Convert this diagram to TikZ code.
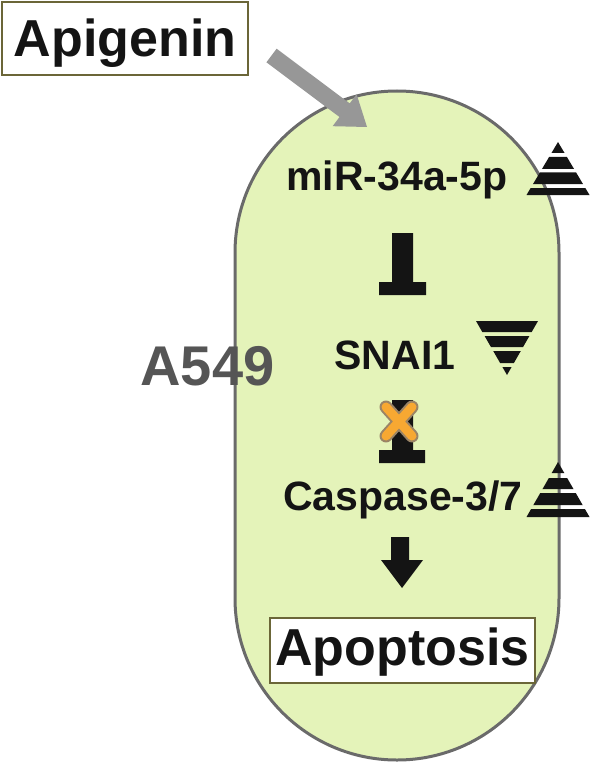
\documentclass[tikz,border=0pt]{standalone}
\usepackage{fontspec}
\setmainfont{Liberation Sans}
\usetikzlibrary{calc}
\definecolor{cellfill}{HTML}{E4F3B9}
\definecolor{cellline}{HTML}{6A6A6A}
\definecolor{boxline}{HTML}{6B6638}
\definecolor{arrowgray}{HTML}{979797}
\definecolor{ink}{HTML}{141414}
\definecolor{cellname}{HTML}{555555}
\definecolor{xorange}{HTML}{F7A832}
\definecolor{xedge}{HTML}{9A8466}
\tikzset{
  labelbox/.style={draw=boxline, line width=1.6pt, fill=white, inner sep=0pt, anchor=base, text=ink, font=\fontsize{52}{60}\selectfont\bfseries},
  gene/.style={inner sep=0pt, anchor=base, text=ink, font=\fontsize{41}{48}\selectfont\bfseries},
  band/.style={fill=ink},
}
\begin{document}
\begin{tikzpicture}[x=1pt,y=-1pt]
\useasboundingbox (0,0) rectangle (590,762);
% cell
\node[draw=cellline, line width=3pt, fill=cellfill, rounded corners=161.9pt,
      minimum width=324pt, minimum height=669pt, inner sep=0pt] (cell) at (397,425.5) {};
\node[inner sep=0pt, anchor=base, text=cellname, font=\fontsize{56}{64}\selectfont\bfseries] (a549) at (207.5,385) {A549};
% apigenin
\node[labelbox, minimum width=246pt, text height=55pt, text depth=18pt] (api) at (125,57) {Apigenin};
% gray arrow into the cell
\coordinate (gtail) at (271.5,55.5);
\coordinate (gtip) at (367,127);
\fill[arrowgray] (266.4,62.3) -- (339.5,117.0) -- (332.6,126.2) -- (gtip) -- (356.6,94.2) -- (349.7,103.4) -- (276.6,48.7) -- cycle;
% genes
\node[gene] (mir) at (397,190) {miR-34a-5p};
\node[gene] (snai) at (395,369) {SNAI1};
\node[gene] (casp) at (403,510) {Caspase-3/7};
\node[labelbox, minimum width=265pt, text height=47pt, text depth=18pt] (apo) at (402.5,665) {Apoptosis};
% inhibition mir -| snai
\coordinate (t1) at (402.5,233);
\fill[ink] (392,233) rectangle (413,283) (379,282) rectangle (426,295);
% inhibition snai -| casp (blocked)
\coordinate (t2) at (402.5,400);
\fill[ink] (392,400) rectangle (413,451) (379,450) rectangle (425,463);
\draw[xedge, line width=13pt, line cap=round] (386,407) -- (412,436) (412,407) -- (386,436);
\draw[xorange, line width=9pt, line cap=round] (386,407) -- (412,436) (412,407) -- (386,436);
% arrow casp -> apoptosis
\coordinate (d1) at (400,537);
\coordinate (d2) at (402,588);
\fill[ink] (391,537) -- (409,537) -- (409,560) -- (423,560) -- (d2) -- (381,560) -- (391,560) -- cycle;
% up triangle at mir
\begin{scope}
\clip (558,142) -- (589.5,195) -- (526.5,195) -- cycle;
\fill[band] (520,140) rectangle (600,153) (520,157) rectangle (600,169) (520,172.5) rectangle (600,184) (520,188) rectangle (600,197);
\end{scope}
% down triangle at snai
\begin{scope}
\clip (476,321) -- (538,321) -- (507,375) -- cycle;
\fill[band] (470,319) rectangle (545,332) (470,336) rectangle (545,347) (470,351) rectangle (545,363) (470,367) rectangle (545,377);
\end{scope}
% up triangle at casp
\begin{scope}
\clip (558,462) -- (589.5,517) -- (526.5,517) -- cycle;
\fill[band] (520,460) rectangle (600,473) (520,478) rectangle (600,489) (520,493) rectangle (600,505) (520,509) rectangle (600,519);
\end{scope}
\end{tikzpicture}
\end{document}
